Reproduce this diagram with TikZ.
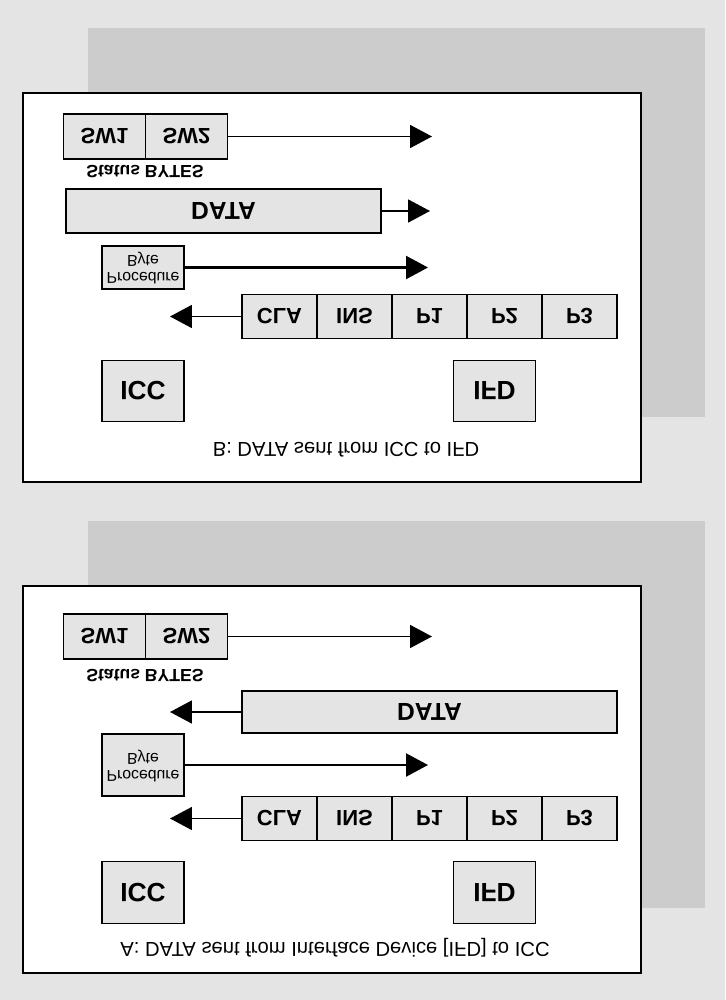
\documentclass[tikz,border=0pt]{standalone}
\usepackage{fontspec}
\setmainfont{Liberation Sans}
\usetikzlibrary{arrows.meta}

\definecolor{pagegray}{HTML}{E4E4E4}
\definecolor{shadowgray}{HTML}{CCCCCC}
\definecolor{cellgray}{HTML}{E4E4E4}

% the whole figure is printed upside down (mirrored top to bottom)
\newcommand{\flipv}[1]{\scalebox{1}[-1]{#1}}

\tikzset{
  panel/.style={draw=black, line width=1.1pt, fill=white},
  cell/.style={draw=black, line width=0.8pt, fill=cellgray, inner sep=0pt,
    minimum width=1.64cm, minimum height=0.88cm},
  bigtxt/.style={font=\bfseries\fontsize{14}{16}\selectfont},
  celltxt/.style={font=\bfseries\fontsize{12.5}{14}\selectfont},
  proctxt/.style={font=\fontsize{9}{9.5}\selectfont},
  flow/.style={line width=1pt, -{Triangle[length=0.44cm,width=0.46cm]}},
}

\begin{document}
\begin{tikzpicture}[x=0.02cm, y=-0.02cm]
    \fill[pagegray] (0,0) rectangle (725,1000);
    \useasboundingbox (0,0) rectangle (725,1000);

    % panels with their drop shadows
    \fill[shadowgray] (88,28) rectangle (705,417);
    \fill[shadowgray] (88,521) rectangle (705,908);
    \draw[panel] (23,93) rectangle (641,482);
    \draw[panel] (23,586) rectangle (641,973);

    % status bytes
    \foreach \pn/\cy/\ly in {b/136.5/172, a/636.5/676} {
        \node[cell, celltxt, minimum height=0.9cm] (\pn sw1) at (104.5,\cy) {\flipv{SW1}};
        \node[cell, celltxt, minimum height=0.9cm] (\pn sw2) at (186.5,\cy) {\flipv{SW2}};
        \node[font=\bfseries\fontsize{10}{12}\selectfont] (\pn stat) at (145,\ly) {\flipv{Status BYTES}};
    }
    \coordinate (bswend) at (432,136.5);
    \coordinate (aswend) at (432,636.5);
    \draw[flow] (bsw2.east) -- (bswend);
    \draw[flow] (asw2.east) -- (aswend);

    % data blocks
    \node[cell, bigtxt, minimum width=6.3cm] (bdata) at (223.5,211) {\flipv{DATA}};
    \node[cell, bigtxt, minimum width=7.5cm, minimum height=0.84cm] (adata) at (429.5,712) {\flipv{DATA}};
    \coordinate (bdataend) at (430,211);
    \coordinate (adataend) at (170,712);
    \draw[flow] (bdata.east) -- (bdataend);
    \draw[flow] (adata.west) -- (adataend);

    % procedure bytes
    \node[cell, proctxt, minimum height=0.86cm] (bproc) at (143,267.5)
        {\flipv{\begin{tabular}{@{}c@{}}Procedure\\Byte\end{tabular}}};
    \node[cell, proctxt, minimum height=1.24cm] (aproc) at (143,765)
        {\flipv{\begin{tabular}{@{}c@{}}Procedure\\Byte\end{tabular}}};
    \coordinate (bprocend) at (428,267.5);
    \coordinate (aprocend) at (428,765);
    \draw[flow, line width=1.3pt] (bproc.east) -- (bprocend);
    \draw[flow, line width=1.3pt] (aproc.east) -- (aprocend);

    % command header
    \foreach \pn/\cy in {b/316.5, a/818.5} {
        \foreach \n/\cx/\txt in {cla/279.5/CLA, ins/354.5/INS, pa/429.5/P1, pb/504.5/P2, pc/579.5/P3}
            \node[cell, celltxt, minimum width=1.5cm, minimum height=0.88cm] (\pn\n) at (\cx,\cy) {\flipv{\txt}};
    }
    \coordinate (bclaend) at (170,316.5);
    \coordinate (aclaend) at (170,818.5);
    \draw[flow] (bcla.west) -- (bclaend);
    \draw[flow] (acla.west) -- (aclaend);

    % card and interface device
    \foreach \pn/\cy in {b/391, a/892.5} {
        \node[cell, minimum height=1.23cm, font=\bfseries\fontsize{15}{17}\selectfont] (\pn icc) at (143,\cy) {\flipv{ICC}};
        \node[cell, minimum height=1.23cm, font=\bfseries\fontsize{15}{17}\selectfont] (\pn ifd) at (494.5,\cy) {\flipv{IFD}};
    }

    % captions
    \node[font=\fontsize{11.5}{13}\selectfont] (bcap) at (346,450) {\flipv{B: DATA sent from ICC to IFD}};
    \node[font=\fontsize{11.5}{13}\selectfont] (acap) at (335,948) {\flipv{A: DATA sent from Interface Device [IFD] to ICC}};
\end{tikzpicture}
\end{document}
